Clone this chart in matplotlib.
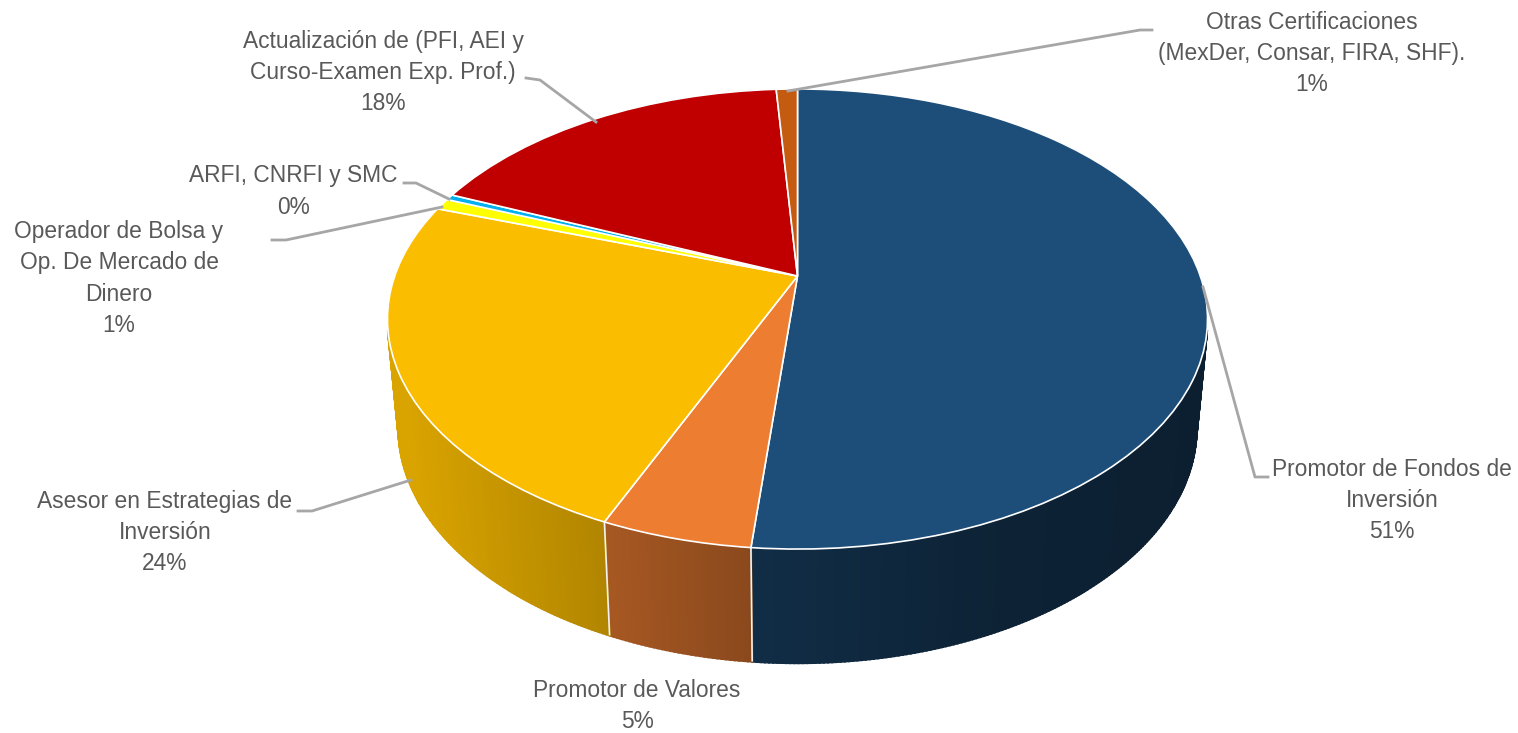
import matplotlib
matplotlib.use('Agg')
import numpy as np
import matplotlib.pyplot as plt
from matplotlib.patches import Polygon
from matplotlib.transforms import Transform
from matplotlib.colors import to_rgb

categories = ['Promotor de Fondos de\nInversión', 'Promotor de Valores',
              'Asesor en Estrategias de\nInversión', 'Operador de Bolsa y\nOp. De Mercado de\nDinero',
              'ARFI, CNRFI y SMC', 'Actualización de (PFI, AEI y\nCurso-Examen Exp. Prof.)',
              'Otras Certificaciones\n(MexDer, Consar, FIRA, SHF).']
values = [51.5, 5.0, 23.7, 0.8, 0.4, 17.6, 1.0]
pct_labels = ['51%', '5%', '24%', '1%', '0%', '18%', '1%']
colors = ['#1D4E79', '#ED7D31', '#FBBD00', '#FFFF00', '#00B0F0', '#C00000', '#C55A11']

# label centres and leader lines, in pixels
label_pos = [(1392, 500.5), (637, 706), (165, 532.5), (119, 278.5), (293, 191.5), (383, 72.5), (1312, 53.5)]
leaders = [[(1268, 477), (1255, 477), (1203, 287)],
           None,
           [(298, 511), (312, 511), (411, 480)],
           [(272, 240), (286, 240), (442, 207)],
           [(404, 183), (416, 183), (449, 199)],
           [(526, 78), (540, 80), (596, 122)],
           [(1152, 30), (1140, 30), (788, 91)]]

# perspective of the pie disc
CX, CY = 797.5, 276
A, B, K = 402.8, 222.0, 0.187


def project(x, y):
    return CX + A * x / (1 + K * y), CY - B * y / (1 + K * y)


class DiscProjection(Transform):
    input_dims = 2
    output_dims = 2

    def transform_non_affine(self, values):
        px, py = project(values[:, 0], values[:, 1])
        return np.column_stack([px, py])


def lower_rim(px, py):
    # bottom ellipse of the cylinder
    return 798 + (px - 798) * 399 / 410, 428 + (py - 319) * 235 / 230


def shade(px):
    return np.interp(px, [400, 609, 752, 1000, 1200], [0.87, 0.70, 0.58, 0.44, 0.40])


fig = plt.figure(figsize=(15.18, 7.33), dpi=100)
ax = fig.add_axes([0, 0, 1, 1])

wedges, _ = ax.pie(values, colors=colors, startangle=90, counterclock=False,
                   wedgeprops={'edgecolor': 'white', 'linewidth': 1.2, 'zorder': 3})
ax.set_aspect('auto')
ax.set_xlim(0, 1518)
ax.set_ylim(733, 0)
ax.axis('off')

proj = DiscProjection() + ax.transData
for w in wedges:
    w.set_transform(proj)
    w.set_clip_on(False)

# side wall, only the part towards the viewer shows
edges = np.concatenate([[0], np.cumsum(values)]) / np.sum(values) * 360
for i, col in enumerate(colors):
    t0, t1 = edges[i], edges[i + 1]
    n = max(2, int((t1 - t0) / 0.5))
    th = np.radians(np.linspace(t0, t1, n))
    px, py = project(np.sin(th), np.cos(th))
    qx, qy = lower_rim(px, py)
    base = np.array(to_rgb(col))
    for j in range(n - 1):
        if py[j] < 330 or py[j + 1] < 330:
            continue
        c = tuple(base * shade(0.5 * (px[j] + px[j + 1])))
        ax.add_patch(Polygon([(px[j], py[j]), (px[j + 1], py[j + 1]), (qx[j + 1], qy[j + 1]), (qx[j], qy[j])],
                             facecolor=c, edgecolor=c, linewidth=1.6, zorder=1))
for i, col in enumerate(colors):
    # white seam between slices on the wall
    th = np.radians(edges[i])
    px, py = project(np.sin(th), np.cos(th))
    qx, qy = lower_rim(px, py)
    if py > 330:
        ax.plot([px, qx], [py, qy], color='#f2f2f2', lw=1.2, zorder=2, solid_capstyle='butt')

for line in leaders:
    if line is not None:
        xs, ys = zip(*line)
        ax.plot(xs, ys, color='#A6A6A6', lw=2, zorder=4, solid_joinstyle='round')

for name, pct, (x, y) in zip(categories, pct_labels, label_pos):
    ax.text(x, y, name + '\n' + pct, ha='center', va='center', fontsize=16.4,
            family='Liberation Sans', color='#595959', linespacing=1.46, zorder=5)

fig.savefig('out.png', dpi=100, facecolor='white')
